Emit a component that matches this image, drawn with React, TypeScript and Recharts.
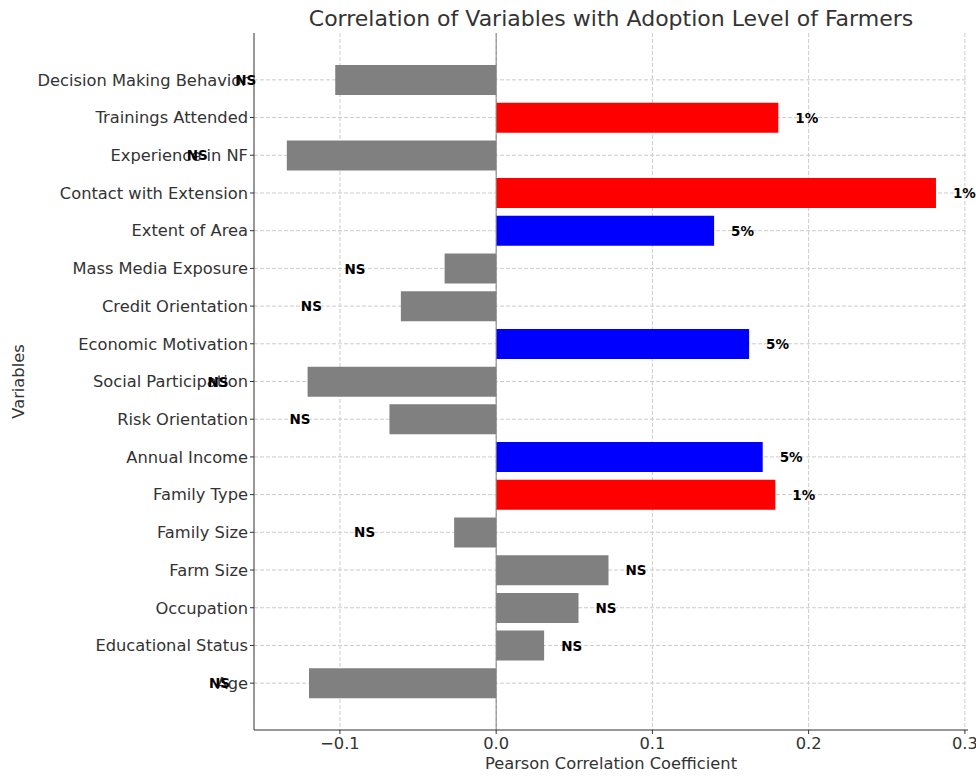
import React from 'react';
import { BarChart, Bar, XAxis, YAxis, CartesianGrid, ReferenceLine, Cell, LabelList } from 'recharts';

const variables = [
  'Decision Making Behavior', 'Trainings Attended', 'Experience in NF', 'Contact with Extension',
  'Extent of Area', 'Mass Media Exposure', 'Credit Orientation', 'Economic Motivation',
  'Social Participation', 'Risk Orientation', 'Annual Income', 'Family Type', 'Family Size',
  'Farm Size', 'Occupation', 'Educational Status', 'Age',
];
const correlations = [
  -0.103, 0.1806, -0.134, 0.2815, 0.1395, -0.033, -0.061, 0.1619,
  -0.1207, -0.0683, 0.1706, 0.1787, -0.0269, 0.0719, 0.0527, 0.0307, -0.1198,
];
const significance = [
  'NS', '1%', 'NS', '1%', '5%', 'NS', 'NS', '5%',
  'NS', 'NS', '5%', '1%', 'NS', 'NS', 'NS', 'NS', 'NS',
];
const xTicks = [-0.1, 0, 0.1, 0.2, 0.3];

const sigColor: Record<string, string> = { '1%': '#ff0000', '5%': '#0000ff', NS: '#808080' };

const data = variables.map((name, i) => ({ name, r: correlations[i], sig: significance[i] }));

const FONT = '"DejaVu Sans", sans-serif';
const TXT = '#333333';
const FS = 16.3;

const fmt = (v: number) => (v < 0 ? '\u2212' + Math.abs(v).toFixed(1) : v.toFixed(1));

const SigLabel = (props: any) => {
  const { x, y, width, height, index } = props;
  const left = Math.min(x, x + width);
  const right = Math.max(x, x + width);
  const cy = y + height / 2;
  const v = correlations[index];
  const pos = v >= 0;
  return (
    <text
      x={pos ? right + 17 : left - 79}
      y={cy}
      textAnchor={pos ? 'start' : 'end'}
      dominantBaseline="central"
      fontFamily={FONT}
      fontWeight="bold"
      fontSize={13.5}
      fill="#000"
    >
      {significance[index]}
    </text>
  );
};

export default function App() {
  return (
    <div style={{ position: 'relative', width: 976, height: 776, fontFamily: FONT, overflow: 'hidden' }}>
      <style>{'html,body{margin:0;padding:0;overflow:hidden;}'}</style>
      <div
        style={{
          position: 'absolute', left: 254, width: 714, top: 7, lineHeight: '24px', textAlign: 'center',
          fontSize: 22, color: TXT, fontFamily: FONT, whiteSpace: 'nowrap',
        }}
      >
        Correlation of Variables with Adoption Level of Farmers
      </div>
      <BarChart
        width={976}
        height={776}
        data={data}
        layout="vertical"
        margin={{ top: 33, right: 8, left: 0, bottom: 8 }}
        barSize={30}
        style={{ overflow: 'visible' }}
      >
        <XAxis
          type="number"
          domain={[-0.155, 0.302]}
          ticks={xTicks}
          tickFormatter={fmt}
          allowDataOverflow
          height={38}
          tickSize={4}
          tickMargin={3}
          stroke={TXT}
          tick={{ fill: TXT, fontSize: FS, fontFamily: FONT }}
        />
        <YAxis
          type="category"
          dataKey="name"
          width={254}
          padding={{ top: 28, bottom: 28 }}
          tickSize={4}
          tickMargin={2}
          interval={0}
          stroke={TXT}
          tick={{ fill: TXT, fontSize: FS, fontFamily: FONT }}
          label={{ value: 'Variables', angle: -90, position: 'insideLeft', offset: 18, fill: TXT, fontSize: FS, fontFamily: FONT, style: { textAnchor: 'middle' } }}
        />
        <Bar dataKey="r" isAnimationActive={false}>
          {data.map((d, i) => (
            <Cell key={i} fill={sigColor[d.sig]} />
          ))}
          <LabelList dataKey="sig" content={SigLabel} />
        </Bar>
        <CartesianGrid stroke="#cccccc" strokeDasharray="4 2" syncWithTicks />
        <ReferenceLine x={0} stroke="#808080" strokeWidth={1} />
      </BarChart>
      <div
        style={{
          position: 'absolute', left: 254, width: 714, top: 754, lineHeight: '20px', textAlign: 'center',
          fontSize: FS, color: TXT, fontFamily: FONT, whiteSpace: 'nowrap',
        }}
      >
        Pearson Correlation Coefficient
      </div>
    </div>
  );
}
